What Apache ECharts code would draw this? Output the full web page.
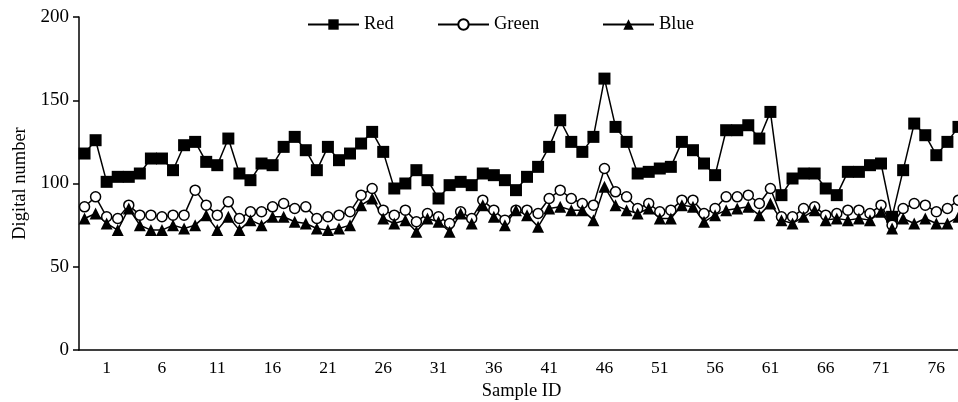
<!DOCTYPE html>
<html>
<head>
<meta charset="utf-8">
<script src="https://cdn.jsdelivr.net/npm/echarts@6/dist/echarts.min.js"></script>
<style>
  html, body { margin: 0; padding: 0; background: #fff; }
  #chart { width: 958px; height: 402px; }
</style>
</head>
<body>
<div id="chart"></div>
<script>
// sample ids 1..80
const samples = ['1','2','3','4','5','6','7','8','9','10','11','12','13','14','15','16','17','18','19','20',
  '21','22','23','24','25','26','27','28','29','30','31','32','33','34','35','36','37','38','39','40',
  '41','42','43','44','45','46','47','48','49','50','51','52','53','54','55','56','57','58','59','60',
  '61','62','63','64','65','66','67','68','69','70','71','72','73','74','75','76','77','78','79','80']
const tickLabels = ['1','6','11','16','21','26','31','36','41','46','51','56','61','66','71','76']
const yTicks = [0, 50, 100, 150, 200]

const red = [118, 126, 101, 104, 104, 106, 115, 115, 108, 123,
  125, 113, 111, 127, 106, 102, 112, 111, 122, 128,
  120, 108, 122, 114, 118, 124, 131, 119, 97, 100,
  108, 102, 91, 99, 101, 99, 106, 105, 102, 96,
  104, 110, 122, 138, 125, 119, 128, 163, 134, 125,
  106, 107, 109, 110, 125, 120, 112, 105, 132, 132,
  135, 127, 143, 93, 103, 106, 106, 97, 93, 107,
  107, 111, 112, 80, 108, 136, 129, 117, 125, 134]
const green = [86, 92, 80, 79, 87, 81, 81, 80, 81, 81,
  96, 87, 81, 89, 79, 83, 83, 86, 88, 85,
  86, 79, 80, 81, 83, 93, 97, 84, 81, 84,
  77, 82, 80, 76, 83, 79, 90, 84, 78, 84,
  84, 82, 91, 96, 91, 88, 87, 109, 95, 92,
  85, 88, 83, 84, 90, 90, 82, 85, 92, 92,
  93, 88, 97, 80, 80, 85, 86, 81, 82, 84,
  84, 82, 87, 75, 85, 88, 87, 83, 85, 90]
const blue = [79, 82, 76, 72, 85, 75, 72, 72, 75, 73,
  75, 81, 72, 80, 72, 78, 75, 80, 80, 77,
  76, 73, 72, 73, 75, 87, 91, 79, 76, 78,
  71, 79, 77, 71, 82, 76, 87, 80, 75, 84,
  81, 74, 85, 86, 84, 84, 78, 98, 87, 84,
  82, 85, 79, 79, 87, 86, 77, 81, 84, 85,
  86, 81, 88, 78, 76, 80, 84, 78, 79, 78,
  79, 78, 83, 73, 79, 76, 79, 76, 76, 80]

const font = 'Liberation Serif'
const myChart = echarts.init(document.getElementById('chart'), null, { renderer: 'canvas' })

const lineSeries = (name, data, symbol, size, fill) => ({
  name: name,
  type: 'line',
  data: data,
  symbol: symbol,
  symbolSize: size,
  showAllSymbol: true,
  animation: false,
  lineStyle: { color: '#000', width: 1.5 },
  itemStyle: { color: fill, borderColor: '#000', borderWidth: fill === '#fff' ? 1.5 : 0 }
})

// one legend per entry, the gaps in the figure are uneven
const legendAt = (name, left) => ({
  top: 10,
  left: left,
  itemWidth: 51,
  itemHeight: 13,
  itemGap: 0,
  textStyle: { fontFamily: font, fontSize: 18.5, color: '#000' },
  data: [name]
})

const option = {
  backgroundColor: '#fff',
  animation: false,
  textStyle: { fontFamily: font, color: '#000' },
  legend: [legendAt('Red', 302), legendAt('Green', 432), legendAt('Blue', 597)],
  grid: { left: 79, right: -6, top: 17, bottom: 52, outerBoundsMode: 'none', containLabel: false },
  xAxis: {
    type: 'category',
    data: samples,
    boundaryGap: true,
    name: 'Sample ID',
    nameLocation: 'middle',
    nameGap: 32,
    nameTextStyle: { fontFamily: font, fontSize: 18.5, color: '#000' },
    axisLine: { lineStyle: { color: '#000', width: 1.5 } },
    axisTick: { interval: (i) => i % 5 === 0, length: 6, lineStyle: { color: '#000', width: 1.5 } },
    axisLabel: {
      interval: (i) => i % 5 === 2,
      formatter: (v, i) => tickLabels[(i - 2) / 5],
      fontFamily: font, fontSize: 17.5, color: '#000', margin: 9
    },
    splitLine: { show: false }
  },
  yAxis: {
    type: 'value',
    min: yTicks[0],
    max: yTicks[yTicks.length - 1],
    interval: 50,
    name: 'Digital number',
    nameLocation: 'middle',
    nameGap: 49,
    nameTextStyle: { fontFamily: font, fontSize: 18.5, color: '#000' },
    axisLine: { show: true, lineStyle: { color: '#000', width: 1.5 } },
    axisTick: { show: true, length: 6, lineStyle: { color: '#000', width: 1.5 } },
    axisLabel: { fontFamily: font, fontSize: 19, color: '#000', margin: 10 },
    splitLine: { show: false }
  },
  series: [
    lineSeries('Red', red, 'rect', 12, '#000'),
    lineSeries('Green', green, 'circle', 10, '#fff'),
    lineSeries('Blue', blue, 'triangle', 12, '#000')
  ]
}
myChart.setOption(option)
</script>
</body>
</html>
